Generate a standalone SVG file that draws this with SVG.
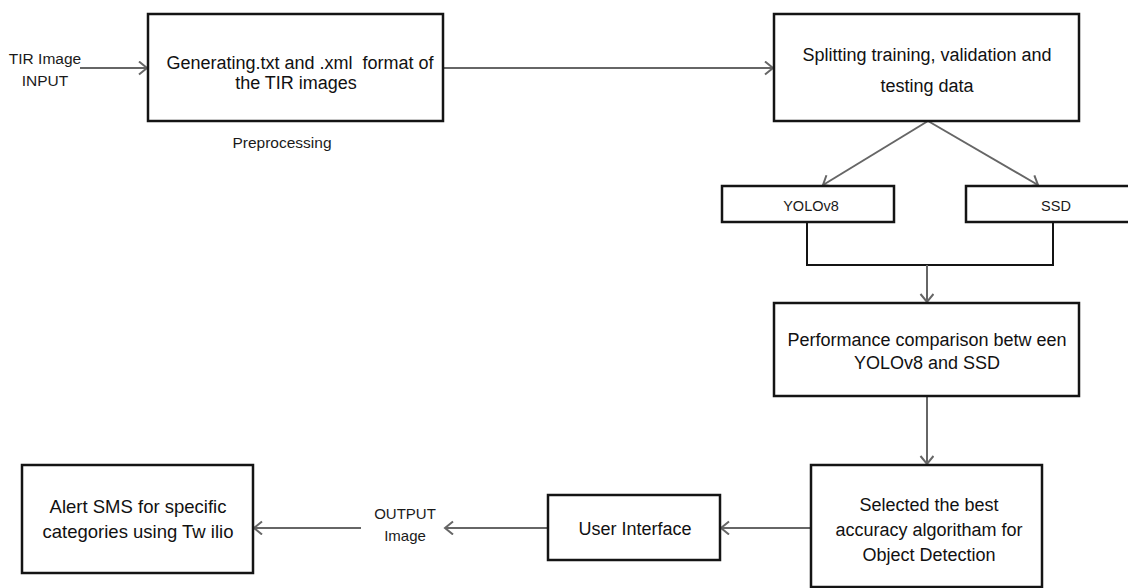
<svg xmlns="http://www.w3.org/2000/svg" width="1128" height="588" viewBox="0 0 1128 588">
<style>
  .box { fill: #fff; stroke: #141414; stroke-width: 2.5; }
  .t { font-family: "Liberation Sans", Arial, sans-serif; font-size: 18px; fill: #111; text-anchor: middle; }
  .s { font-family: "Liberation Sans", Arial, sans-serif; font-size: 15.5px; fill: #1a1a1a; text-anchor: middle; }
  .c { fill: none; stroke: #666; stroke-width: 2; }
  .b { fill: none; stroke: #141414; stroke-width: 2; }
</style>
<defs>
  <marker id="ah" markerUnits="userSpaceOnUse" markerWidth="12" markerHeight="16" refX="9" refY="7" orient="auto" viewBox="0 0 12 16">
    <path d="M1,0.5 L9,7 L1,13.5" fill="none" stroke="#666" stroke-width="2"/>
  </marker>
</defs>
<rect width="1128" height="588" fill="#fff"/>

<g id="connectors">
  <line class="c" x1="80" y1="68" x2="147" y2="68" marker-end="url(#ah)"/>
  <line class="c" x1="443" y1="68" x2="773" y2="68" marker-end="url(#ah)"/>
  <line class="c" x1="928" y1="121" x2="823" y2="185" marker-end="url(#ah)"/>
  <line class="c" x1="928" y1="121" x2="1038" y2="185" marker-end="url(#ah)"/>
  <polyline class="b" points="807,222 807,265 1053,265 1053,222"/>
  <line class="c" x1="927" y1="265" x2="927" y2="302" marker-end="url(#ah)"/>
  <line class="c" x1="927" y1="396" x2="927" y2="464" marker-end="url(#ah)"/>
  <line class="c" x1="811" y1="528" x2="721" y2="528" marker-end="url(#ah)"/>
  <line class="c" x1="548" y1="528" x2="445" y2="528" marker-end="url(#ah)"/>
  <line class="c" x1="361" y1="528" x2="254" y2="528" marker-end="url(#ah)"/>
</g>

<g id="input-label">
  <text class="s" x="45" y="64">TIR Image</text>
  <text class="s" x="45" y="86">INPUT</text>
</g>

<g id="generating">
  <rect class="box" x="148" y="14" width="295" height="107"/>
  <text class="t" x="300" y="68.5">Generating.txt and .xml&#160; format of</text>
  <text class="t" x="296" y="89">the TIR images</text>
</g>

<g id="preprocessing-label">
  <text class="s" x="282" y="148">Preprocessing</text>
</g>

<g id="splitting">
  <rect class="box" x="774" y="14" width="305" height="107"/>
  <text class="t" x="927" y="61">Splitting training, validation and</text>
  <text class="t" x="927" y="92">testing data</text>
</g>

<g id="yolov8">
  <rect class="box" x="722" y="186" width="172" height="36"/>
  <text class="s" x="811" y="211" style="font-size:14.5px">YOLOv8</text>
</g>

<g id="ssd">
  <rect class="box" x="966" y="186" width="170" height="36"/>
  <text class="s" x="1056" y="211" style="font-size:14.5px">SSD</text>
</g>

<g id="performance">
  <rect class="box" x="774" y="303" width="305" height="93"/>
  <text class="t" x="927" y="346">Performance comparison betw een</text>
  <text class="t" x="927" y="369">YOLOv8 and SSD</text>
</g>

<g id="selected">
  <rect class="box" x="811" y="465" width="231" height="122"/>
  <text class="t" x="929" y="511">Selected the best</text>
  <text class="t" x="929" y="536">accuracy algoritham for</text>
  <text class="t" x="929" y="561">Object Detection</text>
</g>

<g id="user-interface">
  <rect class="box" x="548" y="495" width="172" height="65"/>
  <text class="t" x="635" y="534.5">User Interface</text>
</g>

<g id="output-label">
  <text class="s" x="405" y="519" style="font-size:15px">OUTPUT</text>
  <text class="s" x="405" y="541" style="font-size:15px">Image</text>
</g>

<g id="alert">
  <rect class="box" x="22" y="465" width="231" height="108"/>
  <text class="t" x="138" y="513" style="font-size:18.5px">Alert SMS for specific</text>
  <text class="t" x="138" y="538" style="font-size:18.5px">categories using Tw ilio</text>
</g>
</svg>
